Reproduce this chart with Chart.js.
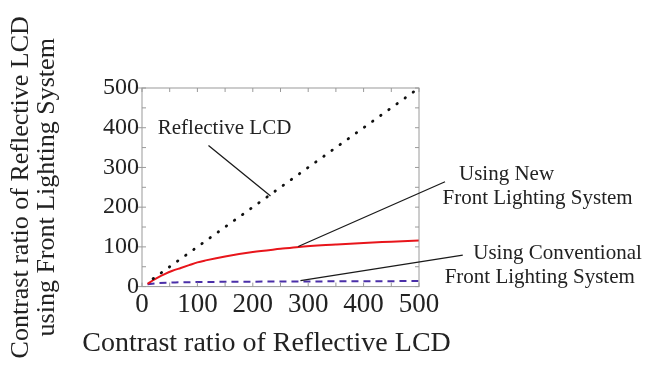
<!DOCTYPE html>
<html>
<head>
<meta charset="utf-8">
<script src="https://cdn.jsdelivr.net/npm/chart.js@4/dist/chart.umd.min.js"></script>
<style>
  html, body { margin: 0; padding: 0; background: #fff; }
</style>
</head>
<body>
<canvas id="myChart" width="646" height="383"></canvas>
<script>
// data
const reflectiveX = [20, 500];
const reflectiveY = [20, 500];
const newFlsX = [10, 20, 30, 40, 55, 70, 85, 100, 115, 150, 200, 250, 283, 350, 400, 450, 500];
const newFlsY = [7, 16, 24, 31, 40, 47, 54, 61, 66, 76, 87, 95, 100, 106, 110, 113, 116];
const convFlsX = [10, 30, 60, 100, 200, 300, 400, 500];
const convFlsY = [6, 9, 10.5, 11.5, 12.5, 13, 13.5, 14];
const axisTicks = [0, 100, 200, 300, 400, 500];
const minorTicks = [0, 50, 100, 150, 200, 250, 300, 350, 400, 450, 500];
const xTitle = 'Contrast ratio of Reflective LCD';
const yTitle = ['Contrast ratio of Reflective LCD', 'using Front Lighting System'];

// callouts, in data units
const noteTexts = [
    ['Reflective LCD', 149, 398],
    ['Using New', 658, 282],
    ['Front Lighting System', 714, 221],
    ['Using Conventional', 750, 84],
    ['Front Lighting System', 718, 23]
];
const noteLines = [
    [120, 355, 232, 228],
    [282, 101, 547, 264],
    [286, 15, 579, 79]
];

const serif = "'Liberation Serif', 'DejaVu Serif', serif";

function toPoints(xs, ys) {
    return xs.map((x, i) => ({ x: x, y: ys[i] }));
}

const frame = {
    id: 'frame',
    afterDatasetsDraw(chart) {
        const ctx = chart.ctx, a = chart.chartArea;
        const sx = chart.scales.x, sy = chart.scales.y;
        ctx.save();
        ctx.strokeStyle = '#9a9a9a';
        ctx.lineWidth = 1;
        ctx.strokeRect(a.left, a.top, a.right - a.left, a.bottom - a.top);
        ctx.beginPath();
        for (const v of minorTicks) {
            const px = sx.getPixelForValue(v), py = sy.getPixelForValue(v);
            ctx.moveTo(px, a.bottom); ctx.lineTo(px, a.bottom - 4);
            ctx.moveTo(px, a.top); ctx.lineTo(px, a.top + 4);
            ctx.moveTo(a.left, py); ctx.lineTo(a.left + 4, py);
            ctx.moveTo(a.right, py); ctx.lineTo(a.right - 4, py);
        }
        for (const v of axisTicks) {
            const py = sy.getPixelForValue(v);
            ctx.moveTo(a.left - 4, py); ctx.lineTo(a.left, py);
        }
        ctx.stroke();

        ctx.strokeStyle = '#1a1a1a';
        ctx.lineWidth = 1.3;
        ctx.beginPath();
        for (const l of noteLines) {
            ctx.moveTo(sx.getPixelForValue(l[0]), sy.getPixelForValue(l[1]));
            ctx.lineTo(sx.getPixelForValue(l[2]), sy.getPixelForValue(l[3]));
        }
        ctx.stroke();

        ctx.fillStyle = '#222';
        ctx.font = '21px ' + serif;
        ctx.textAlign = 'center';
        ctx.textBaseline = 'middle';
        for (const t of noteTexts) {
            ctx.fillText(t[0], sx.getPixelForValue(t[1]), sy.getPixelForValue(t[2]));
        }

        // x title drawn by hand: chart.js would squeeze it to the plot width
        ctx.font = '28px ' + serif;
        ctx.fillText(xTitle, (a.left + a.right) / 2 - 14, a.bottom + 57);
        ctx.restore();
    }
};

const ctx = document.getElementById('myChart').getContext('2d');
const myChart = new Chart(ctx, {
    type: 'line',
    data: {
        datasets: [{
            label: 'Reflective LCD',
            data: toPoints(reflectiveX, reflectiveY),
            borderColor: '#111',
            borderWidth: 2.8,
            borderDash: [0.5, 9.5],
            borderCapStyle: 'round',
            pointRadius: 0
        }, {
            label: 'Using New Front Lighting System',
            data: toPoints(newFlsX, newFlsY),
            borderColor: '#e8151b',
            borderWidth: 2,
            cubicInterpolationMode: 'monotone',
            pointRadius: 0
        }, {
            label: 'Using Conventional Front Lighting System',
            data: toPoints(convFlsX, convFlsY),
            borderColor: '#4a2fa8',
            borderWidth: 2,
            borderDash: [7, 5],
            pointRadius: 0
        }]
    },
    options: {
        responsive: false,
        animation: false,
        layout: { padding: { left: 8, right: 227, top: 88, bottom: 60 } },
        plugins: { legend: { display: false }, tooltip: { enabled: false } },
        scales: {
            x: {
                type: 'linear',
                min: 0, max: 500,
                afterBuildTicks: (axis) => { axis.ticks = axisTicks.map(v => ({ value: v })); },
                grid: { display: false, drawTicks: false },
                border: { display: false },
                ticks: { color: '#222', padding: 2, maxRotation: 0, font: { family: serif, size: 27 } }
            },
            y: {
                type: 'linear',
                min: 0, max: 500,
                afterBuildTicks: (axis) => { axis.ticks = axisTicks.map(v => ({ value: v })); },
                grid: { display: false, drawTicks: false },
                border: { display: false },
                ticks: { color: '#222', padding: 3, font: { family: serif, size: 24 } },
                title: {
                    display: true,
                    text: yTitle,
                    color: '#222',
                    padding: { top: 0, bottom: 40 },
                    font: { family: serif, size: 26, lineHeight: 1.0 }
                }
            }
        }
    },
    plugins: [frame]
});
</script>
</body>
</html>
